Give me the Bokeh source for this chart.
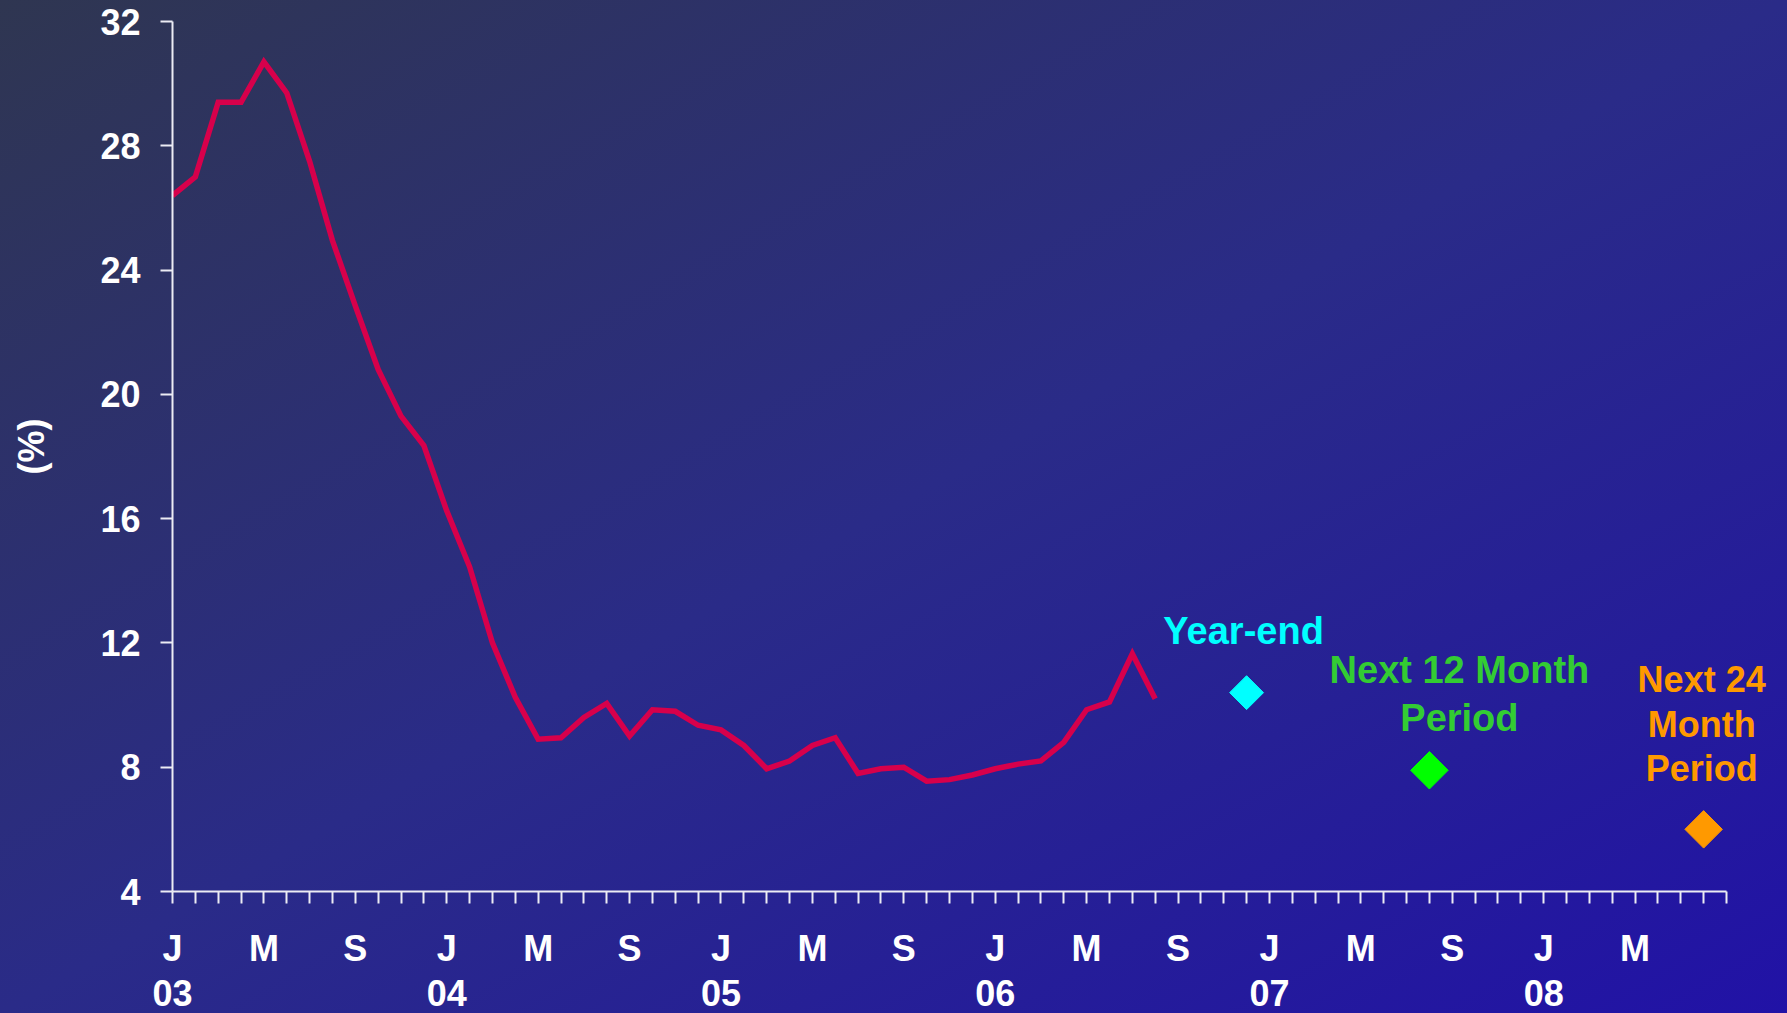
import math

from bokeh.plotting import figure
from bokeh.models import Range1d, FixedTicker, Label, LinearAxis
from bokeh.embed import file_html
from bokeh.resources import INLINE

# Monthly rate (%), Jan 2003 .. Aug 2006 (month index 0 = Jan 2003)
months = list(range(44))
rate = [26.4, 27.0, 29.4, 29.4, 30.7, 29.7, 27.5, 24.95, 22.85, 20.8,
        19.3, 18.35, 16.25, 14.45, 12.0, 10.25, 8.9, 8.95, 9.6, 10.05,
        9.0, 9.85, 9.8, 9.35, 9.2, 8.7, 7.95, 8.2, 8.7, 8.95,
        7.8, 7.95, 8.0, 7.55, 7.6, 7.75, 7.95, 8.1, 8.2, 8.8,
        9.85, 10.1, 11.65, 10.2]

# Forecast points
forecast_names = ["Year-end", "Next 12 Month\nPeriod", "Next 24\nMonth\nPeriod"]
forecast_month = [47, 55, 67]
forecast_value = [10.4, 7.9, 6.0]

# Axis labels
y_ticks = [4, 8, 12, 16, 20, 24, 28, 32]
month_letters = ["J", "M", "S"]
year_labels = ["03", "04", "05", "06", "07", "08"]

FONT = "Liberation Sans"
LINE_COLOR = "#D7004B"
AXIS_COLOR = "#ECECF4"
marker_fill = ["#00FFFF", "#00FF00", "#FF9900"]
text_fill = ["#00FFFF", "#33CC33", "#FF9900"]
marker_size = [24, 26.5, 26.5]
text_size = ["38px", "38px", "36px"]
text_leading = [1.15, 1.15, 1.09]
text_shift = [(-3, 41), (30, 31), (-2, 40)]

W, H = 1787, 1013
LEFT, AXIS_RIGHT, TOP, BOTTOM = 172, 61, 21, 122
n_months = 68
# the frame runs to the right edge so captions there stay visible;
# the x axis itself stops at the last month
x_end = n_months * (W - LEFT) / (W - LEFT - AXIS_RIGHT)

p = figure(width=W, height=H,
           x_range=Range1d(0, x_end), y_range=Range1d(4, 32),
           output_backend="svg", toolbar_location=None,
           min_border_left=LEFT, min_border_right=0,
           min_border_top=TOP, min_border_bottom=BOTTOM)

p.background_fill_alpha = 0
p.border_fill_alpha = 0
p.outline_line_color = None
p.styles = {"background": "linear-gradient(to bottom right, #2f3651 0%, #2a2b88 50%, #2112a6 100%)"}
p.xgrid.visible = False
p.ygrid.visible = False


def style_axis(ax):
    ax.axis_line_color = AXIS_COLOR
    ax.axis_line_width = 2
    ax.major_tick_line_color = AXIS_COLOR
    ax.major_tick_line_width = 2
    ax.major_tick_out = 12
    ax.major_tick_in = 0
    ax.minor_tick_out = 0
    ax.minor_tick_in = 0
    ax.major_label_text_color = "white"
    ax.major_label_text_font = FONT
    ax.major_label_text_font_style = "bold"
    ax.major_label_text_font_size = "36px"
    ax.axis_label_text_color = "white"
    ax.axis_label_text_font = FONT
    ax.axis_label_text_font_style = "bold"
    ax.axis_label_text_font_size = "36px"


# y axis
style_axis(p.yaxis[0])
p.yaxis.ticker = FixedTicker(ticks=y_ticks, minor_ticks=[])
p.yaxis.axis_label = "\u00a0\u00a0(%)"
p.yaxis.major_label_standoff = 20
p.yaxis.axis_label_standoff = 45

# x axis: one tick per month, letters every fourth month
style_axis(p.xaxis[0])
p.xaxis.bounds = (0, n_months)
p.xaxis.ticker = FixedTicker(ticks=list(range(n_months + 1)), minor_ticks=[])
overrides = {}
for m in range(n_months + 1):
    if m % 4 == 0 and m < n_months:
        overrides[m] = month_letters[(m // 4) % 3]
    else:
        overrides[m] = ""
p.xaxis.major_label_overrides = overrides
p.xaxis.major_label_standoff = 24

# second row: years under each January
year_ticks = [12 * k for k in range(len(year_labels))]
year_axis = LinearAxis(ticker=FixedTicker(ticks=year_ticks, minor_ticks=[]),
                       major_label_overrides={t: yl for t, yl in zip(year_ticks, year_labels)},
                       bounds=(0, n_months))
style_axis(year_axis)
year_axis.axis_line_color = None
year_axis.major_tick_line_color = None
year_axis.major_tick_out = 0
year_axis.major_label_standoff = 8
year_axis.major_label_text_line_height = 0.8
p.add_layout(year_axis, "below")

# history line
p.line(months, rate, line_width=5.5, line_color=LINE_COLOR, line_join="miter")

# forecast diamonds and their captions
for i in range(len(forecast_month)):
    p.scatter([forecast_month[i]], [forecast_value[i]], marker="square",
              angle=math.pi / 4, size=marker_size[i],
              fill_color=marker_fill[i], line_color=marker_fill[i])
    dx, dy = text_shift[i]
    p.add_layout(Label(x=forecast_month[i], y=forecast_value[i],
                       text=forecast_names[i], text_align="center",
                       text_baseline="bottom", x_offset=dx, y_offset=dy,
                       text_color=text_fill[i], text_font=FONT,
                       text_font_style="bold", text_font_size=text_size[i],
                       text_line_height=text_leading[i]))

open("out.html", "w").write(file_html(p, INLINE))
